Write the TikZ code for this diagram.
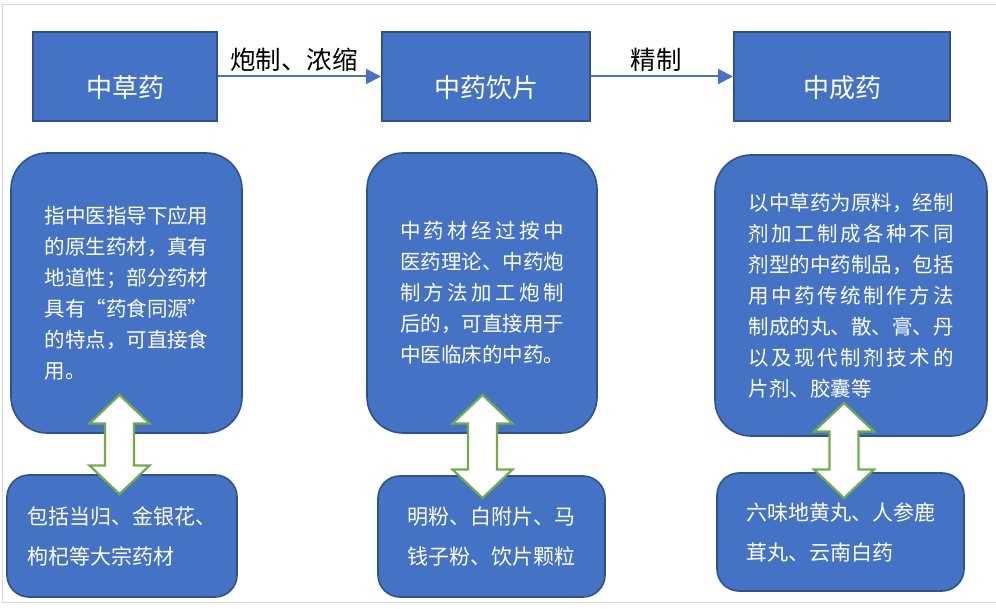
\documentclass[tikz,border=0pt]{standalone}
\usepackage{fontspec}
\setmainfont{Noto Sans CJK SC}
\usetikzlibrary{arrows.meta}
\definecolor{boxblue}{HTML}{4472C4}
\definecolor{boxedge}{HTML}{2F528F}
\definecolor{arrgreen}{HTML}{70AD47}
\definecolor{framegray}{HTML}{D6D6D6}
\newcommand{\jl}[2]{\makebox[#1][s]{#2}}
\newcommand{\fq}[1]{{\addfontfeature{RawFeature=+fwid}#1}}
\newcommand{\dblarrow}[2]{%
  \draw[dbl, shift={(#1)}] (0,-#2) -- (30,-#2+28.5) -- (14.5,-#2+28.5) -- (14.5,#2-28.5)
    -- (30,#2-28.5) -- (0,#2) -- (-30,#2-28.5) -- (-14.5,#2-28.5) -- (-14.5,-#2+28.5)
    -- (-30,-#2+28.5) -- cycle;}
\begin{document}
\begin{tikzpicture}[x=1pt,y=-1pt,
  topbox/.style={draw=boxedge, line width=2pt, fill=boxblue, inner sep=0pt,
    minimum height=89pt, text height=45pt, text depth=3pt,
    font=\fontsize{26}{30}\selectfont, text=white},
  midbox/.style={draw=boxedge, line width=1.6pt, fill=boxblue, rounded corners=36pt,
    inner sep=0pt, align=left, font=\fontsize{20.5}{31}\selectfont, text=white},
  botbox/.style={draw=boxedge, line width=1.6pt, fill=boxblue, rounded corners=22pt,
    inner sep=0pt, align=left, font=\fontsize{21}{40}\selectfont, text=white},
  flow/.style={draw=boxblue, line width=2pt, -{Triangle[length=15pt,width=15pt]}},
  flowlbl/.style={text=black, font=\fontsize{25.5}{30}\selectfont, inner sep=0pt},
  dbl/.style={draw=arrgreen, line width=2.2pt, fill=white, line join=miter},
  framebox/.style={draw=framegray, line width=1pt}]
\useasboundingbox (0,0) rectangle (996,609);
\draw[framebox] (996,5) -- (2.5,5) -- (2.5,602) -- (996,602);

% top row
\node[topbox, minimum width=184pt] (b1) at (125,76.5) {中草药};
\node[topbox, minimum width=208pt] (b2) at (486,76.5) {中药饮片};
\node[topbox, minimum width=216pt] (b3) at (842,76.5) {中成药};
\draw[flow] (b1.east) -- node[flowlbl, pos=0.467, yshift=17pt] (l1) {炮制、浓缩} (b2.west);
\draw[flow] (b2.east) -- node[flowlbl, pos=0.458, yshift=17pt] (l2) {精制} (b3.west);

% middle row
\node[midbox, minimum width=231pt, minimum height=280pt, text width=164pt] (mA) at (126.5,293) {%
指中医指导下应用\\
的原生药材，真有\\
地道性；部分药材\\
具有\fq{“}药食同源\fq{”}\\
的特点，可直接食\\
用。};
\node[midbox, minimum width=230pt, minimum height=280pt, text width=164pt] (mB) at (482,293) {%
\jl{164pt}{中\hfil 药\hfil 材\hfil 经\hfil 过\hfil 按\hfil 中}\\
医药理论、中药炮\\
\jl{164pt}{制\hfil 方\hfil 法\hfil 加\hfil 工\hfil 炮\hfil 制}\\
后的，可直接用于\\
中医临床的中药。};
\node[midbox, minimum width=272pt, minimum height=281pt, text width=205pt] (mC) at (851,295.5) {%
以中草药为原料，经制\\
\jl{205pt}{剂\hfil 加\hfil 工\hfil 制\hfil 成\hfil 各\hfil 种\hfil 不\hfil 同}\\
剂型的中药制品，包括\\
\jl{205pt}{用\hfil 中\hfil 药\hfil 传\hfil 统\hfil 制\hfil 作\hfil 方\hfil 法}\\
制成的丸、散、膏、丹\\
\jl{205pt}{以\hfil 及\hfil 现\hfil 代\hfil 制\hfil 剂\hfil 技\hfil 术\hfil 的}\\
片剂、胶囊等};

% bottom row
\node[botbox, minimum width=230pt, minimum height=122pt, text width=189pt] (bA) at (122,536) {%
包括当归、金银花、\\
枸杞等大宗药材};
\node[botbox, minimum width=227pt, minimum height=121pt, text width=168pt] (bB) at (491.5,536.5) {%
明粉、白附片、马\\
钱子粉、饮片颗粒};
\node[botbox, minimum width=247pt, minimum height=118pt, text width=189pt] (bC) at (840.5,532) {%
六味地黄丸、人参鹿\\
茸丸、云南白药};

% double arrows
\coordinate (dA) at (119.5,444.5);
\coordinate (dB) at (482.5,446.5);
\coordinate (dC) at (844,450.5);
\dblarrow{dA}{49.5}
\dblarrow{dB}{51.5}
\dblarrow{dC}{47.5}
\end{tikzpicture}
\end{document}
